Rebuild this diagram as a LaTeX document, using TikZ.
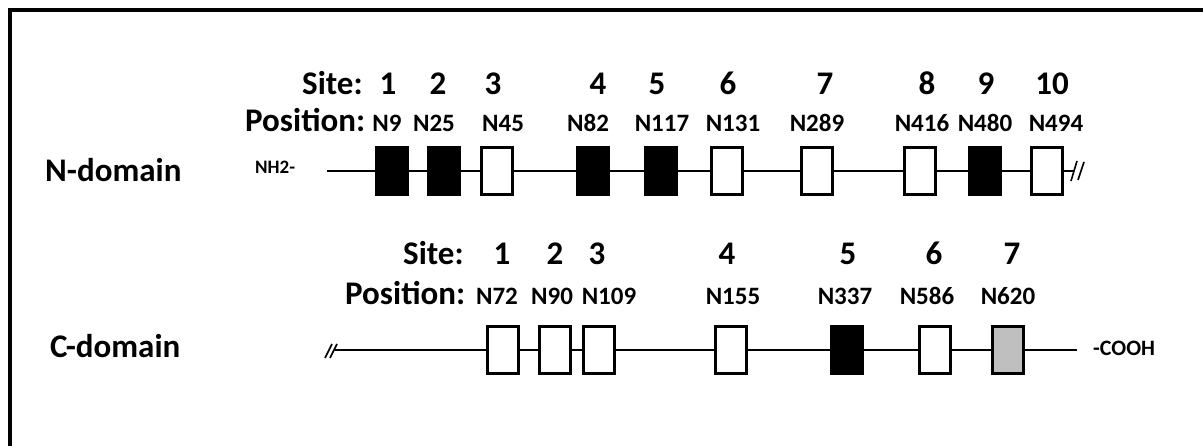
\documentclass[tikz,border=0pt]{standalone}
\usepackage{fontspec}
\setmainfont{Carlito}
\usepackage{tikz}
\usetikzlibrary{positioning,calc}

\begin{document}
\begin{tikzpicture}[
  x=1pt,y=-1pt,
  font=\bfseries,
  big/.style={inner sep=0pt,font=\bfseries\fontsize{33}{36}\selectfont},
  poslab/.style={inner sep=0pt,font=\bfseries\fontsize{25}{27}\selectfont},
  term/.style={inner sep=0pt,font=\bfseries\fontsize{19}{21}\selectfont},
  glyc/.style={draw,line width=2.2pt,inner sep=0pt,
               minimum width=31pt,minimum height=47pt},
  bb/.style={line width=2.4pt},
  brk/.style={line width=1.6pt}
]
\useasboundingbox (0,0) rectangle (1203,446);
% --- frame ---
\draw[line width=3.5pt] (10,446) -- (10,10) -- (1203,10);
% --- N-domain ---
\node[big,anchor=base west](nlab) at(45,182){N-domain};
\node[big,anchor=base west](nsite) at(302,95){Site:};
\node[big,anchor=base west](npos) at(245,132){Position:};
\node[term,anchor=base west](nh2) at(255,174){NH2-};
\coordinate (nstart) at (327,171);
\coordinate (nend) at (1074,171);
\foreach \i/\x/\c/\sx/\px/\p in {1/392/black/388/387/N9, 2/444/black/438/434/N25,
    3/497/white/493/503/N45, 4/593/black/598/588/N82, 5/661/black/657/662/N117,
    6/727/white/728/733/N131, 7/817/white/825/817/N289, 8/920/white/927/922/N416,
    9/985/black/986/985/N480, 10/1047/white/1052/1056/N494}{
  \node[glyc,fill=\c](nb\i) at(\x,171){};
  \node[big,anchor=base](ns\i) at(\sx,95){\i};
  \node[poslab,anchor=base](np\i) at(\px,132){\p};
}
% backbone
\draw[bb](nstart)--(nb1);
\foreach \a/\b in {1/2,2/3,3/4,4/5,5/6,6/7,7/8,8/9,9/10}
  \draw[bb](nb\a)--(nb\b);
\draw[bb](nb10)--(nend);
\draw[brk]($(nend)+(-3,10)$)--($(nend)+(3,-10)$);
\draw[brk]($(nend)+(4,9)$)--($(nend)+(10,-9)$);
% --- C-domain ---
\node[big,anchor=base west](clab) at(50,358){C-domain};
\node[big,anchor=base west](csite) at(403,265){Site:};
\node[big,anchor=base west](cpos) at(345,305){Position:};
\node[term,font=\bfseries\fontsize{22}{24}\selectfont,anchor=base west](cooh) at(1093,356){-COOH};
\coordinate (cstart) at (335,350);
\coordinate (cend) at (1077,350);
\foreach \i/\x/\c/\sx/\px/\p in {1/503/white/502/497/N72, 2/555/white/555/552/N90,
    3/599/white/597/609/N109, 4/731/white/727/733/N155, 5/847/black/848/845/N337,
    6/935/white/934/927/N586, 7/1008/black!25/1012/1008/N620}{
  \node[glyc,fill=\c](cb\i) at(\x,350){};
  \node[big,anchor=base](cs\i) at(\sx,265){\i};
  \node[poslab,anchor=base](cp\i) at(\px,305){\p};
}
% backbone
\draw[bb](cstart)--(cb1);
\foreach \a/\b in {1/2,2/3,3/4,4/5,5/6,6/7}
  \draw[bb](cb\a)--(cb\b);
\draw[bb](cb7)--(cend);
\draw[brk]($(cstart)+(-10,8)$)--($(cstart)+(-3,-6)$);
\draw[brk]($(cstart)+(-5,8)$)--($(cstart)+(2,-6)$);
\end{tikzpicture}
\end{document}
